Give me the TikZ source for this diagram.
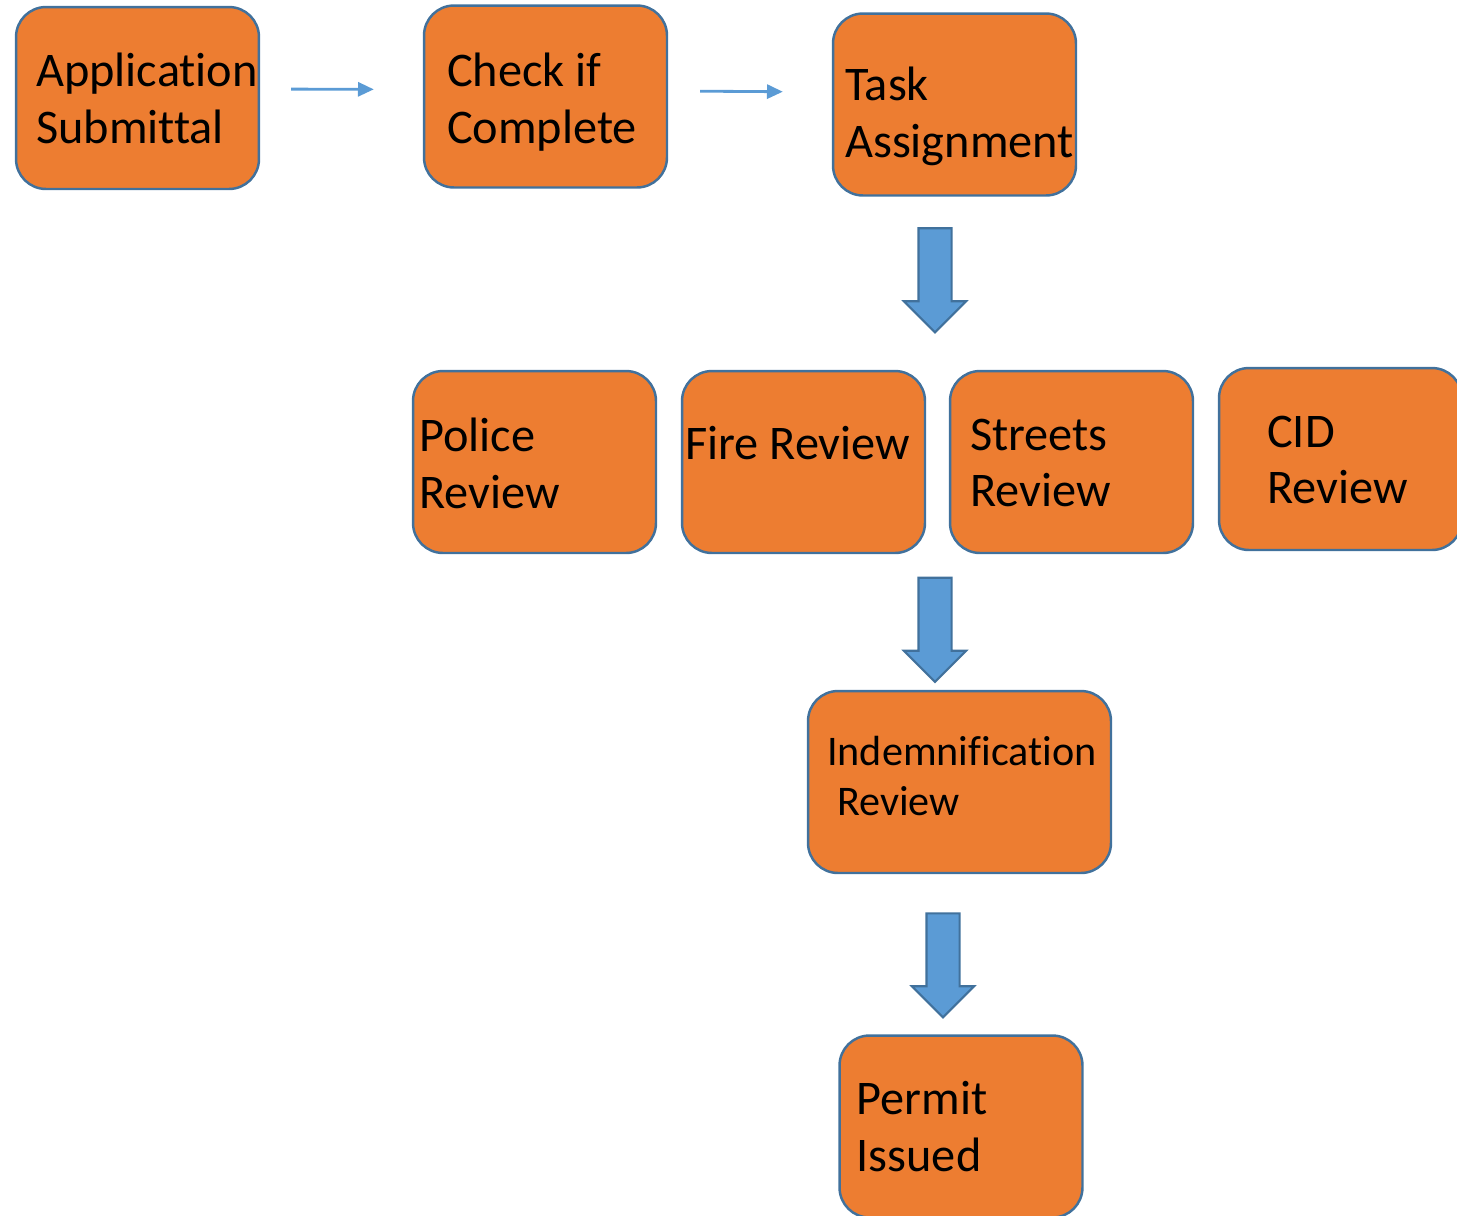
\documentclass[tikz,border=0pt]{standalone}
\usepackage{fontspec}
\setmainfont{Carlito}[Ligatures=NoCommon]
\usetikzlibrary{positioning}
\usetikzlibrary{calc}
\usetikzlibrary{arrows.meta}
\usetikzlibrary{shapes.arrows}
\definecolor{boxOrange}{HTML}{ED7D31}
\definecolor{boxEdge}{HTML}{41719C}
\definecolor{flowBlue}{HTML}{5B9BD5}
\tikzset{FlowStyle/.style={
    x=0.02cm,% one unit per pixel of the sketch
    y=-0.02cm,% y grows downwards
    box/.style={% orange step boxes
      draw=boxEdge,
      fill=boxOrange,
      line width=1.4pt,
      rounded corners=0.6cm,
      minimum width=4.86cm,
      minimum height=3.64cm
    },
    txt/.style={
      anchor=west,
      align=left,
      inner sep=0pt,
      font=\fontsize{27.5}{32.4}\selectfont
    },
    link/.style={
      draw=flowBlue,
      line width=1.6pt,
      -{Triangle[length=9pt,width=8pt]}
    },
    bigarrow/.style={% fat downward arrows
      single arrow,
      draw=boxEdge,
      fill=flowBlue,
      line width=1.2pt,
      rotate=-90,
      inner sep=0.31cm,
      minimum height=2.08cm,
      single arrow head extend=0.29cm
    }
  }
}

\begin{document}
\begin{tikzpicture}[FlowStyle]
    \useasboundingbox (0,0) rectangle (1457,1215);
    % first row
    \node[box] (app) at (137.5,98) {};
    \node[box] (check) at (545.5,96.5) {};
    \node[box] (task) at (954.5,104.5) {};
    \node[txt] (appT) at ($(app.west)+(21,0)$) {Application\\Submittal};
    \node[txt] (checkT) at ($(check.west)+(24,5.5)$) {Check if\\Complete};
    \node[txt] (taskT) at ($(task.west)+(13,12)$) {Task\\Assignment};
    \draw[link, shorten <=0.62cm, shorten >=0.98cm] ($(app.east)+(0,-9)$) -- ($(check.west)+(0,-7)$);
    \draw[link, shorten <=0.64cm, shorten >=0.98cm] ($(check.east)+(0,-5.5)$) -- ($(task.west)+(0,-12.5)$);
    % reviews
    \node[bigarrow] (down1) at (935,272) {};
    \node[box] (police) at (534.5,462) {};
    \node[box] (fire) at (803.5,462) {};
    \node[box] (streets) at (1071.5,462) {};
    \node[box] (cid) at (1340.5,459) {};
    \node[txt] (policeT) at ($(police.west)+(7,1)$) {Police\\Review};
    \node[txt] (fireT) at ($(fire.west)+(4,-19)$) {Fire Review};
    \node[txt] (streetsT) at ($(streets.west)+(21,1)$) {Streets\\Review};
    \node[txt] (cidT) at ($(cid.west)+(49,1)$) {CID\\Review};
    % last steps
    \node[bigarrow] (down2) at (935,621.5) {};
    \node[box, minimum width=6.06cm] (indem) at (959.5,782) {};
    \node[txt, font=\fontsize{24}{29}\selectfont] (indemT) at ($(indem.west)+(20,-6)$) {Indemnification\\\hspace*{0.2cm}Review};
    \node[bigarrow] (down3) at (943,957) {};
    \node[box] (permit) at (961,1126.5) {};
    \node[txt] (permitT) at ($(permit.west)+(18,0)$) {Permit\\Issued};
\end{tikzpicture}
\end{document}
